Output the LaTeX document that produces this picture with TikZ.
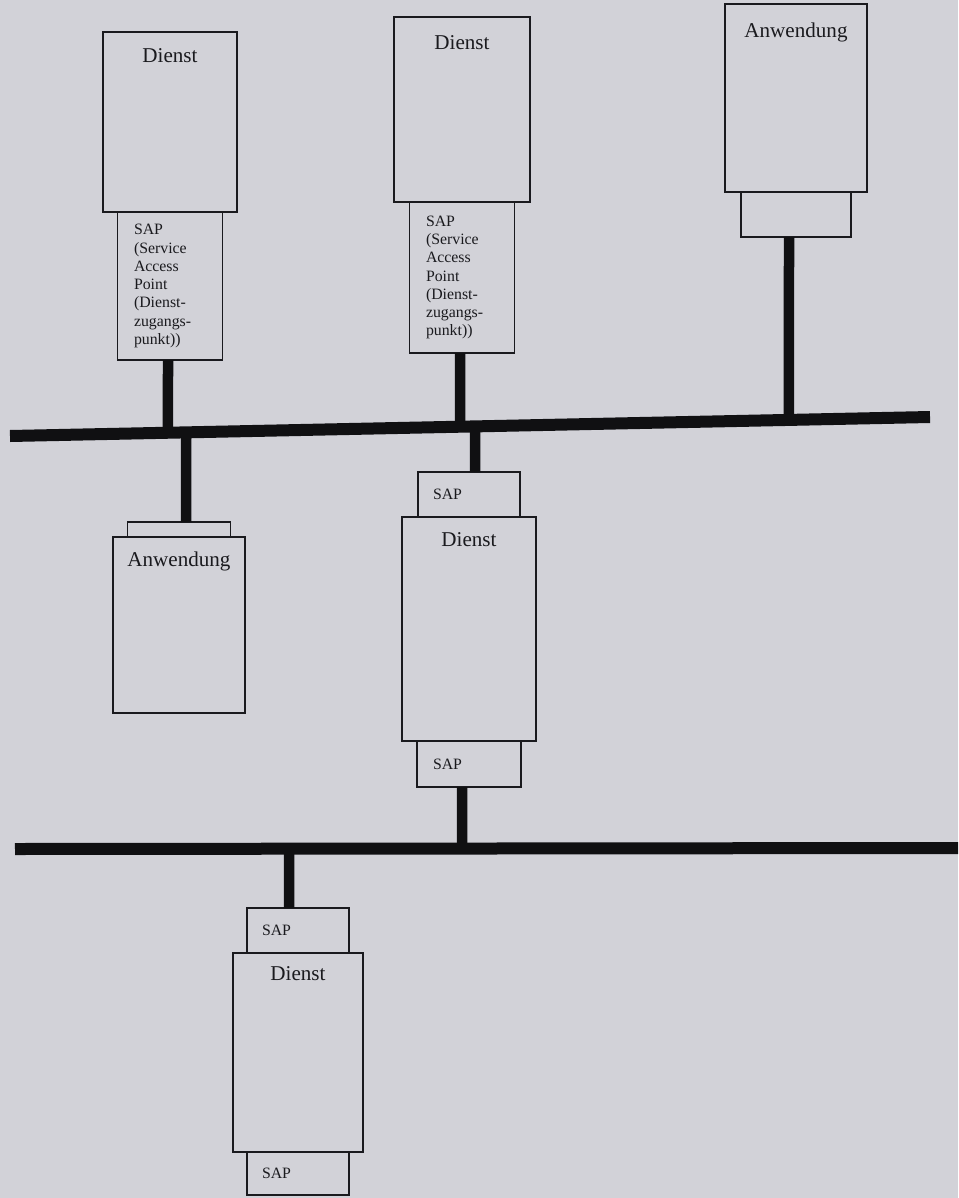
\documentclass[tikz,border=0pt]{standalone}
\usepackage{fontspec}
\setmainfont{Liberation Serif}
\usetikzlibrary{positioning}
\definecolor{paper}{RGB}{210,210,216}
\definecolor{ink}{RGB}{26,26,30}
\definecolor{barcol}{RGB}{16,16,18}
\newcommand{\boxtitlefont}{\fontsize{12pt}{14pt}\selectfont}
\newcommand{\sapfont}{\fontsize{9pt}{10.4pt}\selectfont}
\tikzset{
  main box/.style 2 args={
    draw=ink,
    fill=paper,
    line width=1pt,
    outer sep=0pt,
    minimum width=#1,
    minimum height=#2,
  },
  sap box/.style 2 args={
    main box={#1}{#2},
    text=ink,
    font=\sapfont,
    text width=14.4mm,
    inner xsep=3mm,
    inner ysep=0pt,
    align=left,
  },
  box title/.style={
    text=ink,
    font=\boxtitlefont,
    inner sep=0pt,
  },
  bus/.style={draw=barcol, line width=2.4mm},
  stem/.style={draw=barcol, line width=2.1mm},
}

\begin{document}
\begin{tikzpicture}[x=0.2mm, y=-0.2mm, node distance=0pt]
        \path [use as bounding box, fill=paper] (0,0) rectangle (958,1198);

        \node [main box={26.8mm}{36mm}] (d1) at (170,122) {};
        \node [sap box={21mm}{29.6mm}, below=of d1] (s1) {SAP\\(Service\\Access\\Point\\(Dienst-\\zugangs-\\punkt))};
        \node [box title, below=3.2mm of d1.north] (d1t) {Dienst};

        \node [main box={27.2mm}{37mm}] (d2) at (462,109.5) {};
        \node [sap box={21mm}{30.2mm}, below=of d2] (s2) {SAP\\(Service\\Access\\Point\\(Dienst-\\zugangs-\\punkt))};
        \node [box title, below=3.6mm of d2.north] (d2t) {Dienst};

        \node [main box={28.4mm}{37.6mm}] (a1) at (796,98) {};
        \node [main box={22mm}{9mm}, below=of a1] (a1s) {};
        \node [box title, below=3.8mm of a1.north] (a1t) {Anwendung};

        \node [main box={26.4mm}{35.2mm}] (a2) at (179,625) {};
        \node [main box={20.6mm}{3mm}, above=of a2] (a2s) {};
        \node [box title, below=3mm of a2.north] (a2t) {Anwendung};

        \node [main box={26.8mm}{44.8mm}] (d3) at (469,629) {};
        \node [sap box={20.4mm}{9mm}, above=of d3] (d3a) {SAP};
        \node [sap box={20.8mm}{9.2mm}, below=of d3] (d3b) {SAP};
        \node [box title, below=3mm of d3.north] (d3t) {Dienst};

        \node [main box={26mm}{39.8mm}] (d4) at (298,1052.5) {};
        \node [sap box={20.4mm}{9mm}, above=of d4] (d4a) {SAP};
        \node [sap box={20.4mm}{8.6mm}, below=of d4] (d4b) {SAP};
        \node [box title, below=2.6mm of d4.north] (d4t) {Dienst};

        \coordinate (b1w) at (10,436);
        \coordinate (b1e) at (930,417);
        \coordinate (b2w) at (15,849);
        \coordinate (b2e) at (958,848);

        \coordinate (j1) at ([xshift=-0.4mm]s1.south);
        \coordinate (j2) at ([xshift=-0.4mm]s2.south);
        \coordinate (j3) at ([xshift=-1.4mm]a1s.south);
        \coordinate (j4) at ([xshift=1.4mm]a2s.north);
        \coordinate (j5) at ([xshift=1.2mm]d3a.north);
        \coordinate (j6) at ([xshift=-1.4mm]d3b.south);
        \coordinate (j7) at ([xshift=-1.8mm]d4a.north);
        \coordinate (j1v) at (j1 |- b1w);
        \coordinate (j2v) at (j2 |- b1w);
        \coordinate (j3v) at (j3 |- b1w);
        \coordinate (j4v) at (j4 |- b1w);
        \coordinate (j5v) at (j5 |- b1w);
        \coordinate (j6v) at (j6 |- b2w);
        \coordinate (j7v) at (j7 |- b2w);

        \draw [stem] (j1) -- (intersection of j1--j1v and b1w--b1e);
        \draw [stem] (j2) -- (intersection of j2--j2v and b1w--b1e);
        \draw [stem] (j3) -- (intersection of j3--j3v and b1w--b1e);
        \draw [stem] (j4) -- (intersection of j4--j4v and b1w--b1e);
        \draw [stem] (j5) -- (intersection of j5--j5v and b1w--b1e);
        \draw [stem] (j6) -- (intersection of j6--j6v and b2w--b2e);
        \draw [stem] (j7) -- (intersection of j7--j7v and b2w--b2e);

        \draw [bus] (b1w) -- (b1e);
        \draw [bus] (b2w) -- (b2e);
    \end{tikzpicture}
\end{document}
